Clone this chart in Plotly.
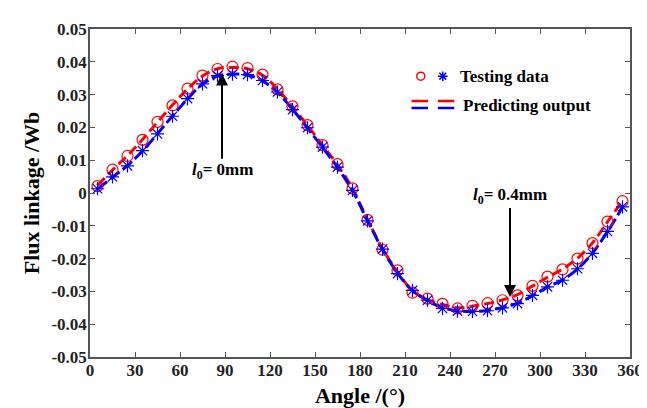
import plotly.graph_objects as go

angles = [5, 15, 25, 35, 45, 55, 65, 75, 85, 95, 105, 115, 125, 135, 145, 155, 165, 175,
          185, 195, 205, 215, 225, 235, 245, 255, 265, 275, 285, 295, 305, 315, 325, 335, 345, 355]

red_test = [0.0021, 0.0071, 0.0113, 0.0162, 0.0217, 0.0267, 0.0318, 0.0358, 0.0378, 0.0385,
            0.0381, 0.0361, 0.0316, 0.0264, 0.0207, 0.0146, 0.0088, 0.0014, -0.0082, -0.0173,
            -0.0236, -0.0304, -0.0322, -0.0338, -0.0352, -0.0344, -0.0336, -0.0327, -0.0312,
            -0.0283, -0.0255, -0.0233, -0.0200, -0.0153, -0.0087, -0.0025]

blue_test = [0.0013, 0.0049, 0.0083, 0.0129, 0.0180, 0.0234, 0.0288, 0.0333, 0.0358, 0.0362,
             0.0361, 0.0343, 0.0308, 0.0254, 0.0199, 0.0140, 0.0079, 0.0008, -0.0085, -0.0171,
             -0.0246, -0.0297, -0.0327, -0.0352, -0.0360, -0.0361, -0.0359, -0.0350, -0.0337,
             -0.0312, -0.0286, -0.0266, -0.0231, -0.0184, -0.0117, -0.0042]

red_pred = [0.0023, 0.0070, 0.0114, 0.0163, 0.0216, 0.0268, 0.0317, 0.0357, 0.0379, 0.0383,
            0.0379, 0.0359, 0.0317, 0.0263, 0.0206, 0.0146, 0.0086, 0.0013, -0.0081, -0.0170,
            -0.0240, -0.0298, -0.0325, -0.0340, -0.0350, -0.0345, -0.0337, -0.0326, -0.0310,
            -0.0284, -0.0257, -0.0232, -0.0199, -0.0152, -0.0088, -0.0024]

blue_pred = [0.0012, 0.0048, 0.0084, 0.0128, 0.0181, 0.0235, 0.0287, 0.0332, 0.0357, 0.0362,
             0.0360, 0.0342, 0.0307, 0.0255, 0.0198, 0.0139, 0.0078, 0.0007, -0.0084, -0.0172,
             -0.0244, -0.0298, -0.0328, -0.0350, -0.0359, -0.0361, -0.0358, -0.0349, -0.0336,
             -0.0313, -0.0287, -0.0265, -0.0232, -0.0183, -0.0118, -0.0043]

x_ticks = [0, 30, 60, 90, 120, 150, 180, 210, 240, 270, 300, 330, 360]
y_ticks = [-0.05, -0.04, -0.03, -0.02, -0.01, 0, 0.01, 0.02, 0.03, 0.04, 0.05]
y_ticktext = ["-0.05", "-0.04", "-0.03", "-0.02", "-0.01", "0", "0.01", "0.02", "0.03", "0.04", "0.05"]

FONT = "'Liberation Serif', 'Times New Roman', serif"
RED = "#ff0000"
BLUE = "#0000ff"

fig = go.Figure()
fig.add_trace(go.Scatter(x=angles, y=red_pred, mode="lines", line_shape="spline",
                         line=dict(color=RED, width=3, dash="10px,5px"), showlegend=False))
fig.add_trace(go.Scatter(x=angles, y=blue_pred, mode="lines", line_shape="spline",
                         line=dict(color=BLUE, width=3, dash="12px,4px"), showlegend=False))
fig.add_trace(go.Scatter(x=angles, y=red_test, mode="markers",
                         marker=dict(symbol="circle-open", size=11, color=RED, line=dict(width=1.2)),
                         showlegend=False))
fig.add_trace(go.Scatter(x=angles, y=blue_test, mode="markers",
                         marker=dict(symbol="asterisk-open", size=11, color=BLUE, line=dict(width=1.2, color=BLUE)),
                         showlegend=False))

# legend glyphs (on an overlay axis spanning the plot area)
fig.add_trace(go.Scatter(x=[0.6126], y=[0.856], mode="markers", xaxis="x2", yaxis="y2",
                         marker=dict(symbol="circle-open", size=8, color=RED, line=dict(width=1.5)),
                         showlegend=False, hoverinfo="skip"))
fig.add_trace(go.Scatter(x=[0.6533], y=[0.856], mode="markers", xaxis="x2", yaxis="y2",
                         marker=dict(symbol="asterisk-open", size=8, color=BLUE, line=dict(width=1.5, color=BLUE)),
                         showlegend=False, hoverinfo="skip"))
for x0, x1 in [(0.5954, 0.6259), (0.6442, 0.6746)]:
    fig.add_shape(type="line", xref="paper", yref="paper", x0=x0, x1=x1, y0=0.7804, y1=0.7804,
                  line=dict(color=RED, width=2.5))
    fig.add_shape(type="line", xref="paper", yref="paper", x0=x0, x1=x1, y0=0.7592, y1=0.7592,
                  line=dict(color=BLUE, width=2.5))

fig.add_annotation(xref="paper", yref="paper", x=0.6807, y=0.856, xanchor="left", yanchor="middle",
                   text="<b>Testing data</b>", showarrow=False, font=dict(family=FONT, size=17, color="black"))
fig.add_annotation(xref="paper", yref="paper", x=0.6867, y=0.768, xanchor="left", yanchor="middle",
                   text="<b>Predicting output</b>", showarrow=False, font=dict(family=FONT, size=17, color="black"))

# labelled arrows (text sits at the arrow tail)
fig.add_annotation(x=88.0, y=0.0364, ax=88.0, ay=0.0066, axref="x", ayref="y",
                   text="<b><i>l</i><sub>0</sub>= 0mm</b>", standoff=0,
                   showarrow=True, arrowhead=2, arrowsize=1.2, arrowwidth=2, arrowcolor="black",
                   font=dict(family=FONT, size=17, color="black"))
fig.add_annotation(x=280, y=-0.0317, ax=280, ay=-0.0008, axref="x", ayref="y",
                   text="<b><i>l</i><sub>0</sub>= 0.4mm</b>", standoff=0,
                   showarrow=True, arrowhead=2, arrowsize=1.2, arrowwidth=2, arrowcolor="black",
                   font=dict(family=FONT, size=17, color="black"))

axis_common = dict(showline=True, linecolor="#555555", linewidth=1.5, mirror="ticks",
                   ticks="inside", ticklen=5, tickcolor="#555555", showgrid=False, zeroline=False,
                   tickfont=dict(family=FONT, size=17, color="#222222"))

fig.update_layout(
    width=647, height=408,
    margin=dict(l=82, r=17, t=18, b=59),
    paper_bgcolor="white", plot_bgcolor="white",
    font=dict(family=FONT),
    xaxis=dict(range=[0, 360], tickvals=x_ticks, ticktext=[f"<b>{t}</b>" for t in x_ticks],
               ticklabelstandoff=-3,
               title=dict(text="<b>Angle /(°)</b>", font=dict(family=FONT, size=22, color="black"), standoff=8),
               **axis_common),
    yaxis=dict(range=[-0.05, 0.05], tickvals=y_ticks, ticktext=[f"<b>{t}</b>" for t in y_ticktext],
               ticklabelstandoff=-2,
               title=dict(text="<b>Flux linkage /Wb</b>", font=dict(family=FONT, size=22, color="black"), standoff=6),
               **axis_common),
    xaxis2=dict(overlaying="x", range=[0, 1], visible=False),
    yaxis2=dict(overlaying="y", range=[0, 1], visible=False),
    showlegend=False,
)

fig.write_html("out.html")
